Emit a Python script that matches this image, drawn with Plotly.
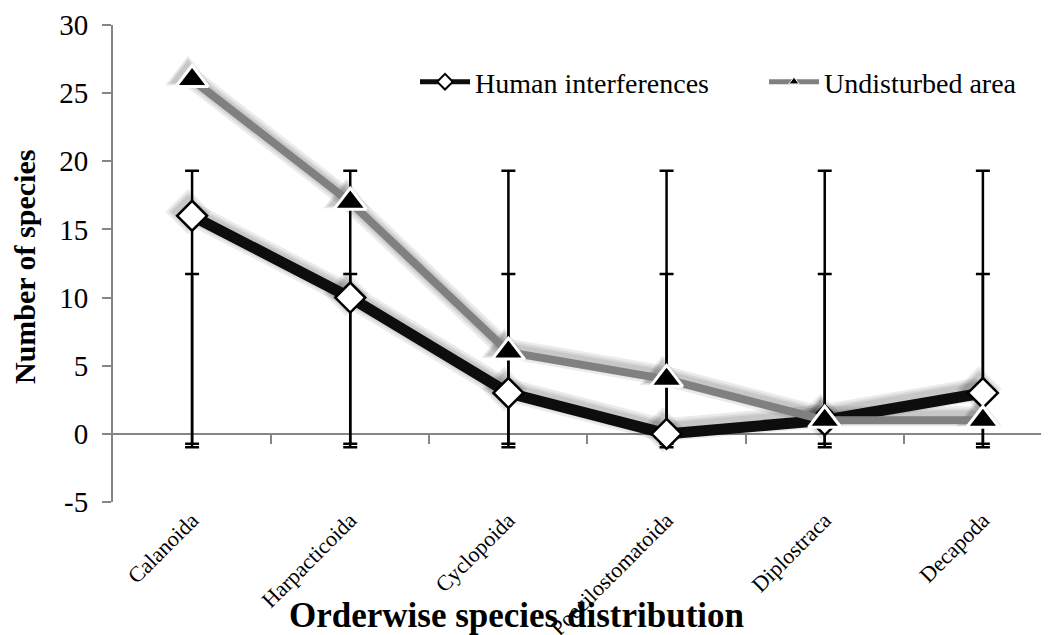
import numpy as np
import plotly.graph_objects as go

categories = ["Calanoida", "Harpacticoida", "Cyclopoida", "Poecilostomatoida", "Diplostraca", "Decapoda"]
human = [16, 10, 3, 0, 1, 3]
undisturbed = [26, 17, 6, 4, 1, 1]
y_ticks = [-5, 0, 5, 10, 15, 20, 25, 30]
y_tick_text = ["-5", "0", "5", "10", "15", "20", "25", "30"]

FONT = "Liberation Serif"
GREY = "#868686"
idx = list(range(len(categories)))
xr = [-0.5, 5.418]
yr = [-5, 30]

# page body has an 8px default margin -> figure sized to fit the 1049x635 window
W, H = 1041, 627
ML, MT, MB = 105, 17, 133
PW = W - ML          # plot width in px
PH = H - MT - MB     # plot height in px


def px_x(sx):
    """screen x (window px) -> paper fraction"""
    return (sx - 8 - ML) / PW


def px_y(sy):
    """screen y (window px) -> paper fraction"""
    return (H - MB - (sy - 8)) / PH


# shadow axes (base subplot, drawn first): same scales, shifted a few px up-left
SH = 4
dx = SH * (xr[1] - xr[0]) / PW
dy = SH * (yr[1] - yr[0]) / PH

fig = go.Figure()

# 1) soft drop shadows (base subplot x/y)
for vals, sym, msize, lw in ((human, "diamond", 23, 11), (undisturbed, "triangle-up", 28, 8)):
    for extra in (12, 7, 3):
        fig.add_trace(go.Scatter(
            x=idx, y=vals, mode="lines+markers", xaxis="x", yaxis="y",
            line=dict(color="rgba(0,0,0,0.08)", width=lw + extra),
            marker=dict(symbol=sym, size=msize + extra, color="rgba(0,0,0,0.08)"),
            showlegend=False, hoverinfo="skip"))

# 2) Excel-style "standard deviation" error bars: centred on the series mean, +/- SD
for vals in (undisturbed, human):
    m = float(np.mean(vals))
    sd = float(np.std(vals, ddof=1))
    fig.add_trace(go.Scatter(
        x=idx, y=[m] * len(idx), mode="markers", xaxis="x2", yaxis="y2",
        marker=dict(size=1, color="rgba(0,0,0,0)"),
        error_y=dict(type="data", array=[sd] * len(idx), visible=True,
                     color="black", thickness=2.5, width=7),
        showlegend=False, hoverinfo="skip"))

# 3) the two series
fig.add_trace(go.Scatter(
    x=idx, y=human, mode="lines+markers", name="Human interferences",
    xaxis="x3", yaxis="y2",
    line=dict(color="#0d0d0d", width=11), showlegend=False,
    marker=dict(symbol="diamond", size=23, color="white",
                line=dict(color="black", width=2.5))))
fig.add_trace(go.Scatter(
    x=idx, y=undisturbed, mode="lines+markers", name="Undisturbed area",
    xaxis="x3", yaxis="y2",
    line=dict(color="#808080", width=8), showlegend=False,
    marker=dict(symbol="triangle-up", size=28, color="black",
                line=dict(color="white", width=3))))

# legend entries (small markers, as in the reference legend)
fig.add_trace(go.Scatter(
    x=[None], y=[None], mode="lines+markers", name="Human interferences",
    xaxis="x3", yaxis="y2", legend="legend",
    line=dict(color="#0d0d0d", width=5),
    marker=dict(symbol="diamond", size=12, color="white", line=dict(color="black", width=2))))
fig.add_trace(go.Scatter(
    x=[None], y=[None], mode="lines+markers", name="Undisturbed area",
    xaxis="x3", yaxis="y2", legend="legend2",
    line=dict(color="#808080", width=5),
    marker=dict(symbol="triangle-up", size=9, color="black", line=dict(color="white", width=1))))

leg_common = dict(orientation="h", xanchor="left", yanchor="middle", itemwidth=50,
                  bgcolor="rgba(0,0,0,0)", font=dict(size=28, family=FONT))

fig.update_layout(
    width=W, height=H,
    margin=dict(l=ML, r=0, t=MT, b=MB, pad=0),
    paper_bgcolor="white", plot_bgcolor="white",
    font=dict(family=FONT, color="black", size=26),
    # base (shadow) axes, hidden
    xaxis=dict(range=[xr[0] + dx, xr[1] + dx], visible=False, automargin=False),
    yaxis=dict(range=[yr[0] - dy, yr[1] - dy], visible=False, automargin=False),
    # category labels
    xaxis2=dict(range=xr, overlaying="x", anchor="y2", side="bottom",
                tickmode="array", tickvals=idx, ticktext=categories,
                tickangle=-45, showline=False, showgrid=False, zeroline=False,
                ticks="", automargin=False, tickfont=dict(size=22, family=FONT)),
    # category boundary ticks on the zero line
    xaxis3=dict(range=xr, overlaying="x", anchor="free", position=5 / 35,
                tickmode="array", tickvals=[i + 0.5 for i in idx[:-1]],
                ticks="outside", ticklen=9, tickwidth=2, tickcolor=GREY, automargin=False,
                showticklabels=False, showline=False, showgrid=False, zeroline=False),
    yaxis2=dict(range=yr, overlaying="y", anchor="x2", side="left",
                tickmode="array", tickvals=y_ticks, ticktext=y_tick_text,
                showline=True, linecolor=GREY, linewidth=2, automargin=False,
                ticks="outside", ticklen=9, tickwidth=2, tickcolor=GREY,
                ticklabelstandoff=8,
                showgrid=False, zeroline=True, zerolinecolor=GREY, zerolinewidth=2,
                tickfont=dict(size=29, family=FONT)),
    legend=dict(x=px_x(415), y=px_y(82), **leg_common),
    legend2=dict(x=px_x(764), y=px_y(82), **leg_common),
    annotations=[
        dict(text="<b>Number of species</b>", textangle=-90, xref="paper", yref="paper",
             x=px_x(24), y=px_y(267), xanchor="center", yanchor="middle", showarrow=False,
             font=dict(size=30, family=FONT)),
        dict(text="<b>Orderwise species distribution</b>", xref="paper", yref="paper",
             x=px_x(516), y=px_y(615), xanchor="center", yanchor="middle", showarrow=False,
             font=dict(size=35, family=FONT)),
    ],
)

fig.write_html("out.html")
